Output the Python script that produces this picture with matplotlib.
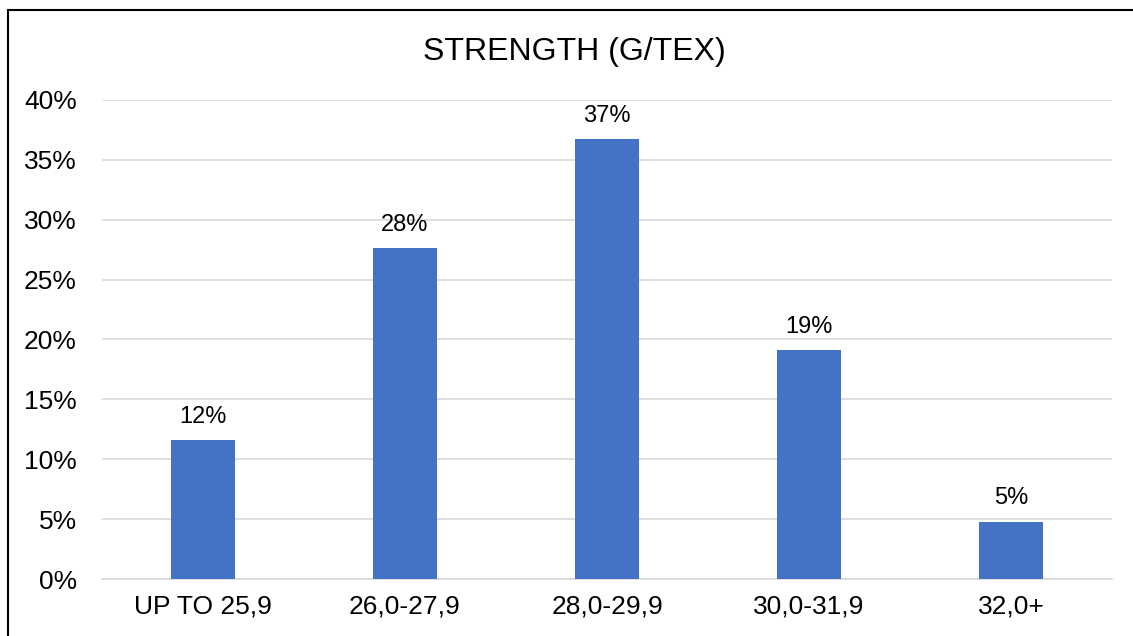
import matplotlib.pyplot as plt
from matplotlib.patches import Rectangle
from matplotlib.ticker import PercentFormatter

plt.rcParams["font.family"] = ["Liberation Sans", "DejaVu Sans"]

# Strength classes and share of samples in each
categories = ["UP TO 25,9", "26,0-27,9", "28,0-29,9", "30,0-31,9", "32,0+"]
shares = [0.116, 0.276, 0.367, 0.191, 0.048]
y_ticks = [0.0, 0.05, 0.10, 0.15, 0.20, 0.25, 0.30, 0.35, 0.40]

BAR_COLOR = "#4472C4"
GRID_COLOR = "#D9D9D9"

fig = plt.figure(figsize=(11.33, 6.36), dpi=100)
ax = fig.add_axes([0.090, 0.0896, 0.8915, 0.7532])

x = range(len(categories))
bars = ax.bar(x, shares, width=0.317, color=BAR_COLOR, zorder=3)

for bar, v in zip(bars, shares):
    ax.annotate(f"{v:.0%}", (bar.get_x() + bar.get_width() / 2, v),
                xytext=(0, 9), textcoords="offset points",
                ha="center", va="bottom", fontsize=17)

ax.set_xlim(-0.5, len(categories) - 0.5)
ax.set_ylim(0, 0.40)
ax.set_yticks(y_ticks)
ax.yaxis.set_major_formatter(PercentFormatter(1.0, decimals=0))
ax.set_xticks(list(x))
ax.set_xticklabels(categories)
ax.tick_params(axis="both", length=0, labelsize=19)
ax.tick_params(axis="x", pad=11)
ax.tick_params(axis="y", pad=18)

ax.grid(axis="y", color=GRID_COLOR, linewidth=1.2, zorder=0)
for side in ["top", "right", "left"]:
    ax.spines[side].set_visible(False)
ax.spines["bottom"].set_color(GRID_COLOR)
ax.spines["bottom"].set_linewidth(1.2)

fig.text(0.507, 0.918, "STRENGTH (G/TEX)", ha="center", va="center", fontsize=23)

# chart frame, running off the right and bottom edges
fig.patches.append(Rectangle((8 / 1133, -0.05), 1.2, 1.05 - 10 / 636,
                             transform=fig.transFigure, fill=False,
                             edgecolor="black", linewidth=1.5))

fig.savefig("out.png", dpi=100)
